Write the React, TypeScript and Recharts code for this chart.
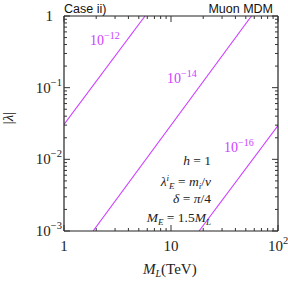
import React from 'react';
import { LineChart, Line, XAxis, YAxis } from 'recharts';

// contour lines (M_L in TeV, |lambda|)
const line12 = [
  { x: 1, y: 0.0306 },
  { x: 5.72, y: 1 },
];
const line14 = [
  { x: 1.87, y: 0.001 },
  { x: 56.5, y: 1 },
];
const line16 = [
  { x: 18.3, y: 0.001 },
  { x: 100, y: 0.0296 },
];

const xMajor = [1, 10, 100];
const yMajor = [0.001, 0.01, 0.1, 1];
const xLabels: Record<string, string[]> = { '1': ['1', ''], '10': ['10', ''], '100': ['10', '2'] };
const yLabels: Record<string, string[]> = {
  '1': ['1', ''],
  '0.1': ['10', '−1'],
  '0.01': ['10', '−2'],
  '0.001': ['10', '−3'],
};

const PURPLE = '#cc40ff';
const SERIF = '"Liberation Serif", "DejaVu Serif", serif';
const SANS = '"Liberation Sans", Arial, sans-serif';

// major + minor ticks for each decade
const withMinor = (majors: number[]) => {
  const out: number[] = [];
  majors.forEach((m, i) => {
    out.push(m);
    if (i < majors.length - 1) {
      for (let k = 2; k <= 9; k++) out.push(+(m * k).toPrecision(6));
    }
  });
  return out;
};
const xTicks = withMinor(xMajor);
const yTicks = withMinor(yMajor);

const isMajor = (v: number) => Math.abs(Math.log10(v) - Math.round(Math.log10(v))) < 1e-9;

const Label10 = ({ parts, x, y, anchor }: { parts: string[]; x: number; y: number; anchor: string }) => (
  <text x={x} y={y} textAnchor={anchor} fontFamily={SERIF} fontSize={15} fill="#222">
    <tspan>{parts[0]}</tspan>
    {parts[1] && (
      <tspan dy={-7} fontSize={10.5}>
        {parts[1]}
      </tspan>
    )}
  </text>
);

const makeTick = (side: 'bottom' | 'top' | 'left' | 'right') => (props: any) => {
  const { x, y, payload } = props;
  const v = payload.value as number;
  const major = isMajor(v);
  const len = major ? 6 : 3;
  const stroke = '#333';
  if (side === 'bottom' || side === 'top') {
    const dir = side === 'bottom' ? -1 : 1;
    return (
      <g>
        <line x1={x} x2={x} y1={y} y2={y + dir * len} stroke={stroke} strokeWidth={1} />
        {side === 'bottom' && major && (
          <Label10 parts={xLabels[String(v)]} x={x} y={y + 20} anchor="middle" />
        )}
      </g>
    );
  }
  const dir = side === 'left' ? 1 : -1;
  return (
    <g>
      <line x1={x} x2={x + dir * len} y1={y} y2={y} stroke={stroke} strokeWidth={1} />
      {side === 'left' && major && (
        <Label10 parts={yLabels[String(v)]} x={v === 1 ? x - 11 : x - 2} y={y + 5} anchor="end" />
      )}
    </g>
  );
};

const axisCommon = {
  type: 'number' as const,
  scale: 'log' as const,
  allowDataOverflow: true,
  tickLine: false,
  tickSize: 0,
  tickMargin: 0,
  interval: 0 as const,
  axisLine: { stroke: '#222', strokeWidth: 1.2 },
};

export default function App() {
  return (
    <div style={{ position: 'absolute', left: 0, top: 0, width: 288, height: 281, background: '#fff' }}>
      <LineChart width={288} height={281} margin={{ top: 0, right: 0, bottom: 0, left: 0 }}>
        <XAxis {...axisCommon} xAxisId="b" dataKey="x" domain={[1, 100]} ticks={xTicks} height={50} tick={makeTick('bottom')} />
        <XAxis {...axisCommon} xAxisId="t" orientation="top" dataKey="x" domain={[1, 100]} ticks={xTicks} height={16} tick={makeTick('top')} />
        <YAxis {...axisCommon} yAxisId="l" dataKey="y" domain={[0.001, 1]} ticks={yTicks} width={64} tick={makeTick('left')} />
        <YAxis {...axisCommon} yAxisId="r" orientation="right" dataKey="y" domain={[0.001, 1]} ticks={yTicks} width={10} tick={makeTick('right')} />
        {[line12, line14, line16].map((d, i) => (
          <Line
            key={i}
            data={d}
            xAxisId="b"
            yAxisId="l"
            dataKey="y"
            type="linear"
            stroke={PURPLE}
            strokeWidth={1.1}
            dot={false}
            activeDot={false}
            isAnimationActive={false}
          />
        ))}
      </LineChart>
      <svg width={288} height={281} style={{ position: 'absolute', left: 0, top: 0, pointerEvents: 'none' }}>
        <text x={64} y={13} fontFamily={SANS} fontSize={12.5} fill="#111">Case ii)</text>
        <text x={273} y={13} fontFamily={SANS} fontSize={12.5} fill="#111" textAnchor="end">Muon MDM</text>

        <g fontFamily={SERIF} fill={PURPLE} fontSize={14}>
          <text x={90} y={45}>10<tspan dy={-6} fontSize={10}>−12</tspan></text>
          <text x={167} y={83}>10<tspan dy={-6} fontSize={10}>−14</tspan></text>
          <text x={224} y={152}>10<tspan dy={-6} fontSize={10}>−16</tspan></text>
        </g>

        <g fontFamily={SERIF} fill="#222" fontSize={13.5} textAnchor="end">
          <text x={211} y={165}><tspan fontStyle="italic">h</tspan> = 1</text>
          <text x={211} y={186}>
            <tspan fontStyle="italic">λ</tspan>
            <tspan dy={-5} fontSize={9} fontStyle="italic">i</tspan>
            <tspan dy={8} fontSize={9} fontStyle="italic">E</tspan>
            <tspan dy={-3}> = </tspan>
            <tspan fontStyle="italic">m</tspan>
            <tspan dy={3} fontSize={9} fontStyle="italic">i</tspan>
            <tspan dy={-3}>/</tspan>
            <tspan fontStyle="italic">v</tspan>
          </text>
          <text x={211} y={203}><tspan fontStyle="italic">δ</tspan> = <tspan fontStyle="italic">π</tspan>/4</text>
          <text x={211} y={222}>
            <tspan fontStyle="italic">M</tspan>
            <tspan dy={3} fontSize={9} fontStyle="italic">E</tspan>
            <tspan dy={-3}> = 1.5</tspan>
            <tspan fontStyle="italic">M</tspan>
            <tspan dy={3} fontSize={9} fontStyle="italic">L</tspan>
          </text>
        </g>

        <text x={143} y={274} fontFamily={SERIF} fontSize={15} fill="#222">
          <tspan fontStyle="italic">M</tspan>
          <tspan dy={3} fontSize={10} fontStyle="italic">L</tspan>
          <tspan dy={-3}>(TeV)</tspan>
        </text>
        <text
          x={13}
          y={118}
          transform="rotate(-90 13 118)"
          textAnchor="middle"
          fontFamily={SERIF}
          fontSize={15}
          fill="#222"
        >
          |<tspan fontStyle="italic">λ</tspan>|
        </text>
      </svg>
    </div>
  );
}
